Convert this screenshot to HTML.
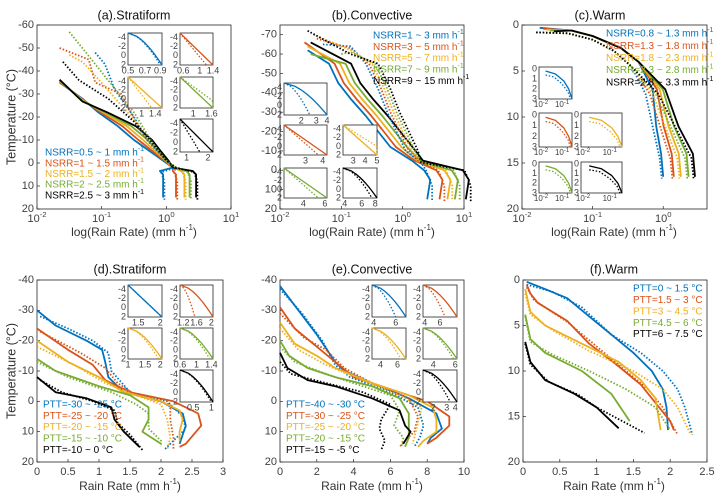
<!DOCTYPE html>
<html><head><meta charset="utf-8"><style>
html,body{margin:0;padding:0;background:#fff;}
svg{display:block;font-family:"Liberation Sans",sans-serif;}
</style></head><body>
<svg id="s" width="720" height="498" viewBox="0 0 720 498" xmlns="http://www.w3.org/2000/svg"></svg>
<script>
var S=document.getElementById('s');var out='';
var C={b:'#0072BD',o:'#D95319',y:'#EDB120',g:'#77AC30',k:'#000000'};
function ax(p){
 p.X=function(v){var a=p.log?Math.log10(v):v;return p.l+(a-p.x0)/(p.x1-p.x0)*(p.r-p.l);};
 p.Y=function(v){return p.t+(v-p.y0)/(p.y1-p.y0)*(p.b-p.t);};
 return p;}
function frame(p,xt,yt,fs){
 fs=fs||11;
 out+='<rect x="'+p.l+'" y="'+p.t+'" width="'+(p.r-p.l)+'" height="'+(p.b-p.t)+'" fill="#fff" stroke="#262626" stroke-width="0.8"/>';
 yt.forEach(function(v){var y=p.Y(v);out+='<line x1="'+p.l+'" x2="'+(p.l+3)+'" y1="'+y+'" y2="'+y+'" stroke="#262626" stroke-width="0.7"/>';
  out+='<text x="'+(p.l-3)+'" y="'+y+'" font-size="'+fs+'" fill="#404040" text-anchor="end" dominant-baseline="middle">'+v+'</text>';});
 xt.forEach(function(v){var x=p.X(v);out+='<line x1="'+x+'" x2="'+x+'" y1="'+p.b+'" y2="'+(p.b-3)+'" stroke="#262626" stroke-width="0.7"/>';
  var lab=p.log?('10<tspan dy="-5" font-size="'+(fs*0.7)+'">'+Math.round(Math.log10(v))+'</tspan>'):v;
  out+='<text x="'+x+'" y="'+(p.b+fs+2)+'" font-size="'+fs+'" fill="#404040" text-anchor="middle">'+lab+'</text>';});
}
function line(p,pts,c,dash,w){
 var d=pts.map(function(q,i){return (i?'L':'M')+p.X(q[0]).toFixed(1)+' '+p.Y(q[1]).toFixed(1);}).join('');
 out+='<path d="'+d+'" fill="none" stroke="'+c+'" stroke-width="'+(w||1.8)+'"'+(dash?' stroke-dasharray="1.5 1.8"':'')+' stroke-linejoin="round"/>';
}
function txt(x,y,s,fs,c,anchor,extra){out+='<text x="'+x+'" y="'+y+'" font-size="'+fs+'" fill="'+c+'" text-anchor="'+(anchor||'start')+'" dominant-baseline="middle" '+(extra||'')+'>'+s+'</text>';}
function L(v){return v.map(function(q){return [Math.pow(10,q[0]),q[1]];});}
function inset(l,t,w,h,c,xt,log,curv,dotshift){
 var p=ax({l:l,r:l+w,t:t,b:t+h,x0:0,x1:1,y0:-5,y1:2});
 out+='<rect x="'+l+'" y="'+t+'" width="'+w+'" height="'+h+'" fill="#fff" stroke="#262626" stroke-width="0.8"/>';
 [-4,-2,0,2].forEach(function(v){var y=p.Y(v);txt(l-2,y,v,9,'#404040','end');});
 xt.forEach(function(a){txt(l+a[0]*w,t+h+6,a[1],9,'#404040','middle');});
 var s=[],d=[];for(var i=0;i<=10;i++){var f=i/10;var y=-5+7*f;s.push([curv?Math.pow(f,0.6):f,y]);d.push([Math.min(1,Math.max(0,(curv?Math.pow(f,0.6):f)*dotshift)),y]);}
 line(p,s,c,false,1.3);line(p,d,c,true,1.3);
}
function c0(l,t,w,h,c){
 var p=ax({l:l,r:l+w,t:t,b:t+h,x0:0,x1:1,y0:-0.2,y1:3});
 out+='<rect x="'+l+'" y="'+t+'" width="'+w+'" height="'+h+'" fill="#fff" stroke="#262626" stroke-width="0.8"/>';
 [0,1,2,3].forEach(function(v){txt(l-2,p.Y(v),v,9,'#404040','end');});
 txt(l+2,t+h+6,'10<tspan dy="-3" font-size="6">-2</tspan>',8,'#404040','middle');
 txt(l+w*0.7,t+h+6,'10<tspan dy="-3" font-size="6">-1</tspan>',8,'#404040','middle');
 line(p,[[0.2,0.2],[0.5,0.5],[0.75,1.2],[0.9,2],[1,3]],c,false,1.3);
 line(p,[[0.2,0.6],[0.45,0.8],[0.7,1.5],[0.88,2.3],[0.95,3]],c,true,1.3);
}
var ser=['b','o','y','g','k'];
// ---- (a)
var A=ax({l:37,r:231,t:25,b:209,x0:-2,x1:1,y0:-60,y1:20,log:true});
frame(A,[0.01,0.1,1,10],[-60,-50,-40,-30,-20,-10,0,10,20]);
var ae=[-0.05,0.15,0.28,0.36,0.46];
ser.forEach(function(k,i){var e=ae[i];var st=[-1.65,-35-i*0.3];var o=i*0.07;
 line(A,L([st,[-1.3,-28+i*0.3],[-1.05+o*0.5,-22],[-0.75+o,-16],[-0.5+o,-10],[-0.25+o*0.6,-5],[-0.05+o*0.3,-1],[0.1,2],[e-0.05,3.5],[e,5],[e,15]]),C[k]);});
var ad=[[[-1.1,-48],[-0.95,-43],[-0.8,-32],[-0.5,-20],[-0.3,-10]],[[-1.65,-50],[-1.2,-45],[-1.1,-35],[-0.7,-30],[-0.4,-14]],[[-1.5,-47],[-1.3,-44],[-1.1,-38],[-0.6,-22],[-0.3,-12]],[[-1.5,-57],[-1.3,-50],[-0.9,-36],[-0.5,-22],[-0.2,-8]],[[-1.6,-44],[-1.35,-36],[-0.9,-28],[-0.5,-18],[-0.25,-10]]];
ser.forEach(function(k,i){var e=ae[i]+0.02;var p=ad[i].concat([[0,-1],[0.15,2],[e-0.05,4],[e,8],[e,16]]);line(A,L(p),C[k],true);});
var NS=['NSRR=0.5 ~ 1 mm h','NSRR=1 ~ 1.5 mm h','NSRR=1.5 ~ 2 mm h','NSRR=2 ~ 2.5 mm h','NSRR=2.5 ~ 3 mm h'];
ser.forEach(function(k,i){txt(45,153+10.7*i,NS[i]+'<tspan dy="-4" font-size="7">-1</tspan>',10,C[k]);});
inset(128,33,34,32,C.b,[[0,'0.5'],[0.5,'0.7'],[0.95,'0.9']],false,true,0.95);
inset(180,33,33,32,C.o,[[0.1,'0.6'],[0.6,'1'],[1,'1.4']],false,false,0.8);
inset(128,77,34,31,C.y,[[0.4,'1'],[0.8,'1.4']],false,false,0.7);
inset(180,77,33,31,C.g,[[0.4,'1'],[0.95,'1.6']],false,false,1.3);
inset(180,119,33,33,C.k,[[0.2,'1'],[0.85,'2']],false,false,0.6);
txt(134,16,'(a).Stratiform',12.5,'#111','middle');
// ---- (b)
var B=ax({l:280,r:464,t:25,b:209,x0:-2,x1:1,y0:-75,y1:20,log:true});
frame(B,[0.01,0.1,1,10],[-70,-60,-50,-40,-30,-20,-10,0,10,20]);
var be=[0.45,0.65,0.78,0.9,1.08];
var bst=[[-1.55,-62],[-1.6,-66],[-1.55,-64],[-1.5,-60],[-1.5,-66]];
ser.forEach(function(k,i){var e=be[i];var o=i*0.09;
 line(B,L([bst[i],[-1.2+o,-55],[-1.05+o,-45],[-0.85+o,-37],[-0.6+o,-28],[-0.4+o,-20],[-0.2+o,-12],[0.15+o*0.5,-5],[e-0.1,0],[e,5],[e-0.05,15]]),C[k]);});
var bdst=[[-1.3,-65],[-1.4,-68],[-1.45,-70],[-1.0,-60],[-1.55,-72]];
ser.forEach(function(k,i){var e=be[i]+0.03;var o=i*0.05;
 line(B,L([bdst[i],[-0.85,-64+i],[-0.6+o,-55],[-0.4+o,-42],[-0.25+o,-30],[-0.1+o,-20],[0.05+o,-10],[0.3,-4],[e-0.1,0],[e,8],[e,16]]),C[k],true);});
var NB=['NSRR=1 ~ 3 mm h','NSRR=3 ~ 5 mm h','NSRR=5 ~ 7 mm h','NSRR=7 ~ 9 mm h','NSRR=9 ~ 15 mm h'];
ser.forEach(function(k,i){txt(373,36+11.3*i,NB[i]+'<tspan dy="-4" font-size="7">-1</tspan>',10,C[k]);});
inset(284,83,43,32,C.b,[[0.4,'2'],[0.75,'3'],[1,'4']],false,true,0.6);
inset(284,125,43,30,C.o,[[0.5,'3'],[0.9,'4']],false,false,0.8);
inset(343,125,34,30,C.y,[[0.3,'3'],[0.65,'4'],[1,'5']],false,false,1.4);
inset(284,168,43,30,C.g,[[0.45,'4'],[0.95,'6']],false,false,0.8);
inset(343,168,34,30,C.k,[[0.05,'4'],[0.55,'6'],[0.95,'8']],false,true,0.85);
txt(372,16,'(b).Convective',12.5,'#111','middle');
// ---- (c)
var Cc=ax({l:522,r:707,t:25,b:209,x0:-2,x1:0.62,y0:0,y1:20,log:true});
frame(Cc,[0.01,0.1,1],[0,5,10,15,20]);
var ce=[0,0.15,0.25,0.36,0.45];
ser.forEach(function(k,i){var e=ce[i];
 line(Cc,L([[-1.75+i*0.05,0.3+i*0.1],[-1.3,0.6],[-1.0,1.2],[-0.6,2.5],[-0.35,4],[-0.15+e*0.4,7],[e*0.7-0.1,11],[e-0.03,14],[e,16.5]]),C[k]);
 line(Cc,L([[-1.8,0.8],[-1.35,0.9],[-1.0,1.6],[-0.7,2.8],[-0.45,4.5],[-0.25+e*0.4,7.5],[e*0.7-0.15,11],[e-0.05,14.5],[e-0.02,16.7]]),C[k],true);});
var NC=['NSRR=0.8 ~ 1.3 mm h','NSRR=1.3 ~ 1.8 mm h','NSRR=1.8 ~ 2.3 mm h','NSRR=2.3 ~ 2.8 mm h','NSRR=2.8 ~ 3.3 mm h'];
ser.forEach(function(k,i){txt(606,34+12.2*i,NC[i]+'<tspan dy="-4" font-size="7">-1</tspan>',10,C[k]);});
c0(539,67,33,32,C.b);c0(539,113,33,34,C.o);c0(581,113,41,34,C.y);c0(539,162,33,31,C.g);c0(581,162,41,31,C.k);
txt(600,16,'(c).Warm',12.5,'#111','middle');
// ---- (d)
var D=ax({l:37,r:223,t:280,b:462,x0:0,x1:3,y0:-40,y1:20});
frame(D,[0,0.5,1,1.5,2,2.5,3],[-40,-30,-20,-10,0,10,20]);
var ds={b:[[0,-30],[0.3,-25],[0.8,-20],[1.05,-17],[1.1,-13],[1.15,-8],[1.4,-3],[2.0,0],[2.35,4],[2.4,8],[2.3,14]],
o:[[0,-24],[0.5,-17],[0.9,-12],[1.1,-7],[1.5,-3],[2.2,0],[2.6,4],[2.65,8],[2.4,14],[2.3,15]],
y:[[0,-20],[0.5,-13],[1.0,-8],[1.4,-3],[2.0,0],[2.3,3],[2.35,6],[2.3,10],[2.3,13]],
g:[[0,-14],[0.3,-10],[1.0,-5],[1.5,-2],[1.8,2],[1.8,6],[1.7,10],[2.0,14]],
k:[[0,-8],[0.3,-3],[0.8,-1],[1.2,2],[1.25,6],[1.4,10],[1.65,15]]};
var dd={b:[[0.05,-28],[0.5,-24],[0.9,-20],[1.15,-16],[1.2,-10],[1.5,-3],[2.1,0],[2.35,5],[2.4,9],[2.15,14],[2.05,16]],
o:[[0.05,-23],[0.7,-16],[1.1,-11],[1.3,-6],[1.6,-2],[2.15,1],[2.15,6],[2.2,12],[2.2,16]],
y:[[0,-18],[0.6,-12],[1.1,-6],[1.6,-2],[2.0,1],[2.1,6],[2.15,12],[2.1,16]],
g:[[0,-13],[0.5,-8],[1.2,-3],[1.6,1],[1.8,4],[1.8,9],[2.0,13],[2.0,15]],
k:[[0.05,-7],[0.4,-3],[0.9,0],[1.25,3],[1.3,7],[1.5,11],[1.7,16]]};
ser.forEach(function(k){line(D,ds[k],C[k]);line(D,dd[k],C[k],true);});
var ND=['PTT=-30 ~ -25 °C','PTT=-25 ~ -20 °C','PTT=-20 ~ -15 °C','PTT=-15 ~ -10 °C','PTT=-10 ~ 0 °C'];
ser.forEach(function(k,i){txt(43,405+11.3*i,ND[i],10,C[k]);});
inset(128,285,34,32,C.b,[[0.3,'1.5'],[0.95,'2']],false,false,1);
inset(180,285,33,32,C.o,[[0.1,'1.2'],[0.5,'1.6'],[0.95,'2']],false,true,0.45);
inset(128,328,34,31,C.y,[[0,'1'],[0.5,'1.5'],[0.95,'2']],false,true,0.9);
inset(180,328,33,31,C.g,[[0,'0.6'],[0.5,'1'],[0.95,'1.4']],false,true,0.9);
inset(180,370,33,32,C.k,[[0.4,'0.5'],[0.95,'1']],false,true,0.95);
txt(130,270,'(d).Stratiform',12.5,'#111','middle');
// ---- (e)
var E=ax({l:280,r:464,t:280,b:462,x0:0,x1:10,y0:-40,y1:20});
frame(E,[0,2,4,6,8,10],[-40,-30,-20,-10,0,10,20]);
var es={b:[[0,-38],[1,-30],[2,-22],[3,-13],[3.5,-10],[5,-6],[7,-1],[8.5,4],[8.8,9],[8.2,12],[8.0,14]],
o:[[0,-31],[0.8,-24],[2,-18],[3,-13],[4,-8],[6,-4],[8,0],[9.2,5],[9.2,8],[8.5,12],[8,14]],
y:[[0,-26],[0.8,-19],[2,-15],[3,-11],[5,-6],[7,-2],[8.3,2],[8.5,6],[8.5,10],[7.8,13],[7.5,15]],
g:[[0,-20],[0.5,-15],[1.5,-11],[3,-8],[5,-5],[6.5,-1],[7,4],[7,8],[7,12],[6.8,15]],
k:[[0,-16],[0.4,-11],[1.5,-7],[3,-5],[5,-1],[6.5,3],[6.8,8],[7.1,10],[6.7,14]]};
var ed={b:[[0,-37],[1.2,-29],[2.3,-20],[3,-12],[3.8,-8],[6,-3],[7.5,2],[7.8,8],[7.6,12],[7.3,15]],
o:[[0,-29],[1.3,-21],[2.5,-17],[3.5,-11],[5,-6],[7,-1],[7.5,5],[7.3,10],[6.8,13],[6.5,15]],
y:[[0,-24],[1,-17],[2.5,-12],[4.5,-7],[6.5,-2],[7.7,2],[7.5,7],[7.3,12],[7.2,14]],
g:[[0,-18],[0.8,-13],[2.5,-9],[4.5,-5],[6,-2],[6.5,3],[6.2,8],[6.7,12],[6.6,15]],
k:[[0,-13],[0.6,-9],[2.5,-6],[4.5,-3],[6,1],[5.5,6],[5.4,9],[5.7,13],[5.5,16]]};
ser.forEach(function(k){line(E,es[k],C[k]);line(E,ed[k],C[k],true);});
var NE=['PTT=-40 ~ -30 °C','PTT=-30 ~ -25 °C','PTT=-25 ~ -20 °C','PTT=-20 ~ -15 °C','PTT=-15 ~ -5 °C'];
ser.forEach(function(k,i){txt(286,405+11.3*i,NE[i],10,C[k]);});
inset(372,285,34,32,C.b,[[0.05,'4'],[0.7,'6']],false,true,0.7);
inset(423,285,34,32,C.o,[[0.05,'4'],[0.5,'6']],false,true,0.65);
inset(372,328,34,31,C.y,[[0.25,'4'],[0.75,'6']],false,true,0.85);
inset(423,328,34,31,C.g,[[0.3,'4'],[0.95,'6']],false,true,0.9);
inset(423,370,34,32,C.k,[[0.3,'2'],[0.7,'3'],[0.95,'4']],false,true,0.8);
txt(372,270,'(e).Convective',12.5,'#111','middle');
// ---- (f)
var F=ax({l:523,r:707,t:280,b:462,x0:0,x1:2.5,y0:0,y1:20});
frame(F,[0,0.5,1,1.5,2,2.5],[0,5,10,15,20]);
var fs={b:[[0.05,0.2],[0.3,1],[0.6,2],[0.9,4],[1.2,6],[1.5,8],[1.75,10],[1.9,12],[1.95,14],[1.97,16.5]],
o:[[0.05,0.5],[0.1,1.5],[0.2,2.5],[0.6,4.5],[0.9,7],[1.3,9.5],[1.6,11.5],[1.8,13.5],[2.0,15.5],[2.05,16.5]],
y:[[0.03,1],[0.1,3.5],[0.3,5],[0.8,7],[1.3,9],[1.6,11],[1.8,13],[1.87,16.5]],
g:[[0.03,3.8],[0.1,6.5],[0.3,8],[0.8,10],[1.2,12.5],[1.45,15.5]],
k:[[0.03,6.8],[0.1,9],[0.3,11],[0.7,12.5],[1.0,14],[1.3,16.3]]};
var fd={b:[[0.05,0.5],[0.4,1.3],[0.8,3],[1.2,6],[1.6,8],[1.9,10],[2.1,12],[2.2,14],[2.3,17]],
o:[[0.05,0.8],[0.15,2.2],[0.6,4.6],[1.0,7.3],[1.4,10],[1.7,12],[1.9,14],[2.1,17]],
y:[[0.03,1.5],[0.1,3.8],[0.4,5.5],[0.9,7.8],[1.5,10],[1.9,12],[2.1,14],[2.28,17]],
g:[[0.03,4],[0.1,6.8],[0.4,8.2],[0.9,10],[1.4,12],[1.8,14],[2.0,16.5]],
k:[[0.03,7],[0.1,9.3],[0.35,11.2],[0.75,12.6],[1.0,14],[1.3,15.3],[1.65,16.8]]};
ser.forEach(function(k){line(F,fs[k],C[k]);line(F,fd[k],C[k],true);});
var NF=['PTT=0 ~ 1.5 °C','PTT=1.5 ~ 3 °C','PTT=3 ~ 4.5 °C','PTT=4.5 ~ 6 °C','PTT=6 ~ 7.5 °C'];
ser.forEach(function(k,i){txt(633,289+11.4*i,NF[i],10,C[k]);});
txt(614,270,'(f).Warm',12.5,'#111','middle');
var xl='log(Rain Rate) (mm h<tspan dy="-5" font-size="8">-1</tspan><tspan dy="5">)</tspan>';
txt(134,233,xl,12,'#333','middle');txt(372,233,xl,12,'#333','middle');txt(614,233,xl,12,'#333','middle');
var xr='Rain Rate (mm h<tspan dy="-5" font-size="8">-1</tspan><tspan dy="5">)</tspan>';
txt(130,487,xr,12,'#333','middle');txt(372,487,xr,12,'#333','middle');txt(614,487,xr,12,'#333','middle');
txt(0,0,'Temperature (°C)',12.5,'#333','middle','transform="translate(12,117) rotate(-90)"');
txt(0,0,'Temperature (°C)',12.5,'#333','middle','transform="translate(12,371) rotate(-90)"');
S.innerHTML=out;
</script>
</body></html>
